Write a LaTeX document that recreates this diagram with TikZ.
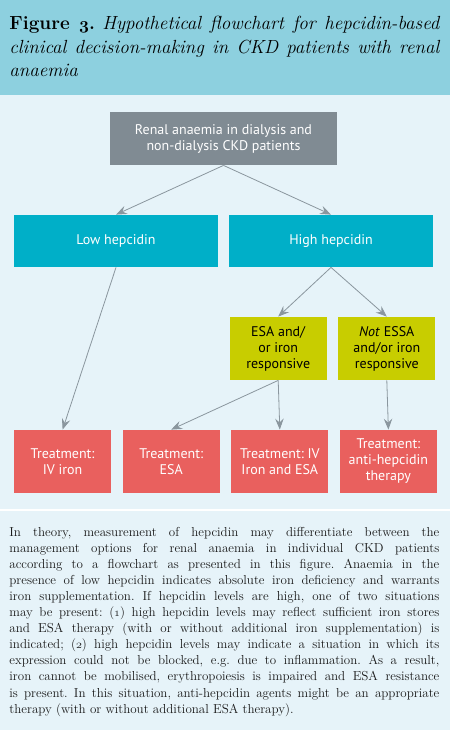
\documentclass[tikz,border=0pt]{standalone}
\usepackage{fontspec}
\newfontfamily\boxfont{PT Sans}
\usetikzlibrary{arrows.meta,positioning}
\definecolor{bandblue}{HTML}{8DD0DF}
\definecolor{panelblue}{HTML}{E6F3F9}
\definecolor{startgray}{HTML}{808B93}
\definecolor{levelcyan}{HTML}{00AFC8}
\definecolor{respyellow}{HTML}{C8CD00}
\definecolor{treatred}{HTML}{E9605E}
\definecolor{arrowgray}{HTML}{8A969E}
\newcommand{\osnum}[1]{{\fontencoding{OML}\fontfamily{cmm}\fontshape{it}\selectfont #1}}
\tikzset{
  flowbox/.style={rectangle, inner sep=2pt, align=center, text=white,
    font=\boxfont\fontsize{14}{16}\selectfont},
  levelbox/.style={flowbox, fill=levelcyan, minimum width=204pt, minimum height=52pt},
  respbox/.style={flowbox, fill=respyellow, text=black, minimum width=97.3pt, minimum height=63pt},
  treatbox/.style={flowbox, fill=treatred, minimum width=97.3pt, minimum height=63pt},
}
\begin{document}
\frenchspacing
\begin{tikzpicture}[x=1pt,y=-1pt,->,>={Stealth[length=11pt,width=8.5pt,inset=4pt]},
    line width=0.8pt,draw=arrowgray]
  \useasboundingbox (0,0) rectangle (451,735);
  % panels
  \fill[bandblue] (0,0) rectangle (450,95);
  \fill[panelblue] (0,95) rectangle (450,509);
  \fill[panelblue] (0,511) rectangle (450,730);
  \node[anchor=base west, inner sep=0pt, text width=430pt, align=justify,
    font=\fontsize{19}{23.5}\selectfont] (caption) at (9,30)
    {\textbf{Figure \osnum{3}.} \textit{Hypothetical flowchart for hepcidin-based\linebreak
     clinical decision-making in CKD patients with renal\linebreak anaemia}};

  % flowchart
  \node[flowbox, fill=startgray, minimum width=227pt, minimum height=53pt] (start) at (223.5,138.5)
    {Renal anaemia in dialysis and\\non-dialysis CKD patients};
  \node[levelbox] (low)  at (116,241) {Low hepcidin};
  \node[levelbox] (high) at (331,241) {High hepcidin};
  \node[respbox] (resp)  at (278.2,348.5) {ESA and/\\or iron\\responsive};
  \node[respbox, right=10.5pt of resp] (nonresp) {\textit{Not} ESSA\\and/or iron\\responsive};
  \node[treatbox] (iviron) at (62.6,461.5) {Treatment:\\IV iron};
  \node[treatbox, right=10.5pt of iviron] (esa)  {Treatment:\\ESA};
  \node[treatbox, right=10.5pt of esa]    (both) {Treatment: IV\\Iron and ESA};
  \node[treatbox, right=10.5pt of both]   (anti) {Treatment:\\anti-hepcidin\\therapy};

  \draw (start.south) -- (low.north);
  \draw (start.south) -- (high.north);
  \draw (low.south) -- (iviron.north);
  \draw (high.south) -- (resp.north);
  \draw (high.south) -- (nonresp.north);
  \draw (resp.south) -- (esa.north);
  \draw (resp.south) -- (both.north);
  \draw (nonresp.south) -- (anti.north);

  % explanation
  \node[anchor=base west, inner sep=0pt, text width=430pt, align=justify, text=black!90,
    font=\fontsize{13}{16.03}\selectfont] (explain) at (9,536.7)
    {In theory, measurement of hepcidin may differentiate between the\linebreak
     management options for renal anaemia in individual CKD patients\linebreak
     according to a flowchart as presented in this figure. Anaemia in the\linebreak
     presence of low hepcidin indicates absolute iron deficiency and warrants\linebreak
     iron supplementation. If hepcidin levels are high, one of two situations\linebreak
     may be present: (\osnum{1}) high hepcidin levels may reflect sufficient iron stores\linebreak
     and ESA therapy (with or without additional iron supplementation) is\linebreak
     indicated; (\osnum{2}) high hepcidin levels may indicate a situation in which its\linebreak
     expression could not be blocked, e.g. due to inflammation. As a result,\linebreak
     iron cannot be mobilised, erythropoiesis is impaired and ESA resistance\linebreak
     is present. In this situation, anti-hepcidin agents might be an appropriate\linebreak
     therapy (with or without additional ESA therapy).};
\end{tikzpicture}
\end{document}
